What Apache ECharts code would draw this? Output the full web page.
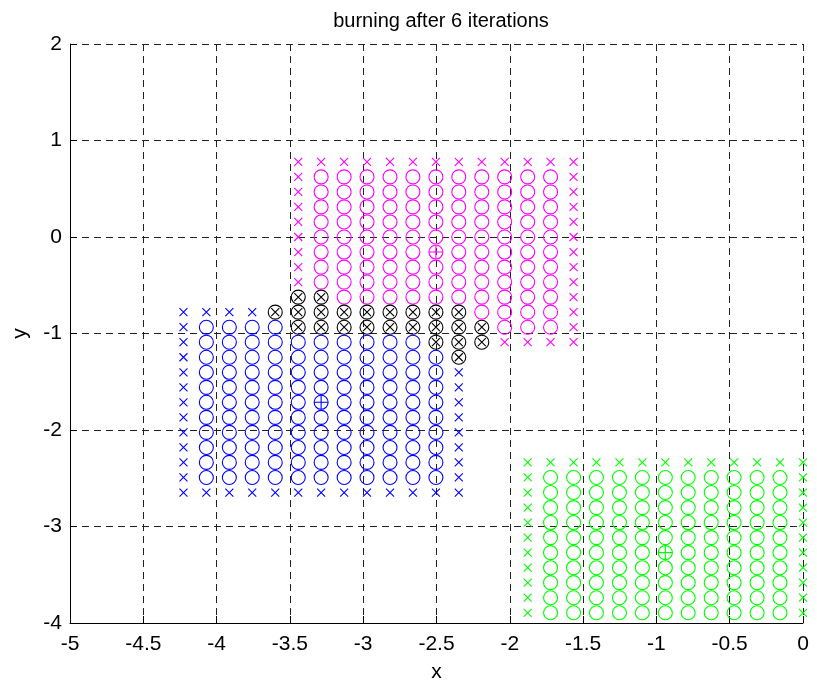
<!DOCTYPE html>
<html>
<head>
<meta charset="utf-8">
<title>burning after 6 iterations</title>
<script src="https://cdn.jsdelivr.net/npm/echarts@6/dist/echarts.min.js"></script>
<style>
  html, body { margin: 0; padding: 0; background: #fff; }
  #chart { width: 817px; height: 683px; }
</style>
</head>
<body>
<div id="chart"></div>
<script>
// Sample lattice: x position of each column (left to right)
const xColumns = [
  -4.226, -4.070, -3.913, -3.757, -3.600, -3.443, -3.287, -3.130, -2.974, -2.817,
  -2.661, -2.504, -2.348, -2.191, -2.035, -1.878, -1.722, -1.565, -1.409, -1.252,
  -1.096, -0.939, -0.783, -0.626, -0.470, -0.313, -0.157, 0.000
];

// y position of each row (top to bottom)
const yRows = [
   0.779,  0.623,  0.467,  0.312,  0.156,  0.000, -0.156, -0.312, -0.467, -0.623,
  -0.779, -0.935, -1.090, -1.246, -1.402, -1.558, -1.713, -1.869, -2.025, -2.181,
  -2.336, -2.492, -2.648, -2.804, -2.959, -3.115, -3.271, -3.427, -3.582, -3.738,
  -3.894
];

// State of every lattice cell, one string per row, one character per column.
//   m / M : cluster 1 interior / border   (magenta)
//   b / B : cluster 2 interior / border   (blue)
//   g / G : cluster 3 interior / border   (green)
//   k     : burnt cell                    (black)
//   .     : empty
const cellMap = [
  '.....MMMMMMMMMMMMM..........',
  '.....MmmmmmmmmmmmM..........',
  '.....MmmmmmmmmmmmM..........',
  '.....MmmmmmmmmmmmM..........',
  '.....MmmmmmmmmmmmM..........',
  '.....MmmmmmmmmmmmM..........',
  '.....MmmmmmmmmmmmM..........',
  '.....MmmmmmmmmmmmM..........',
  '.....MmmmmmmmmmmmM..........',
  '.....kkmmmmmmmmmmM..........',
  'BBBBkkkkkkkkkmmmmM..........',
  'BbbbbkkkkkkkkkmmmM..........',
  'BbbbbbbbbbbkkkMMMM..........',
  'Bbbbbbbbbbbbk...............',
  'BbbbbbbbbbbbB...............',
  'BbbbbbbbbbbbB...............',
  'BbbbbbbbbbbbB...............',
  'BbbbbbbbbbbbB...............',
  'BbbbbbbbbbbbB...............',
  'BbbbbbbbbbbbB...............',
  'BbbbbbbbbbbbB..GGGGGGGGGGGGG',
  'BbbbbbbbbbbbB..GgggggggggggG',
  'BBBBBBBBBBBBB..GgggggggggggG',
  '...............GgggggggggggG',
  '...............GgggggggggggG',
  '...............GgggggggggggG',
  '...............GgggggggggggG',
  '...............GgggggggggggG',
  '...............GgggggggggggG',
  '...............GgggggggggggG',
  '...............GgggggggggggG'
];

// Cluster centres: [column index, row index, cluster]
const centres = [
  [11, 6, 'm'],
  [6, 16, 'b'],
  [21, 26, 'g']
];

const clusterColors = { m: '#ff00ff', b: '#0000ff', g: '#00ff00', k: '#000000' };

const CROSS = 'path://M0,0L10,10M10,0L0,10';
const PLUS = 'path://M5,0L5,10M0,5L10,5';
const FONT = 'Liberation Sans, Arial, Helvetica, sans-serif';

// Collect lattice cells by state
const buckets = {};
cellMap.forEach((row, r) => {
  for (let i = 0; i < row.length; i++) {
    const c = row[i];
    if (c === '.') continue;
    (buckets[c] = buckets[c] || []).push([xColumns[i], yRows[r]]);
  }
});

function marks(data, symbol, size, color, z) {
  return {
    type: 'scatter',
    data: data || [],
    symbol: symbol,
    symbolSize: size,
    silent: true,
    animation: false,
    z: z,
    itemStyle: { color: 'rgba(0,0,0,0)', borderColor: color, borderWidth: 1.1, opacity: 1 }
  };
}

const series = [];
['m', 'b', 'g'].forEach(k => {
  const col = clusterColors[k];
  series.push(marks(buckets[k], 'circle', 14, col, 3));
  series.push(marks(buckets[k.toUpperCase()], CROSS, 8, col, 3));
});
series.push(marks(buckets.k, 'circle', 14, clusterColors.k, 4));
series.push(marks(buckets.k, CROSS, 8, clusterColors.k, 4));
centres.forEach(([ci, ri, k]) => {
  series.push(marks([[xColumns[ci], yRows[ri]]], PLUS, 14, clusterColors[k], 5));
});

const chart = echarts.init(document.getElementById('chart'), null, { renderer: 'canvas' });
chart.setOption({
  animation: false,
  backgroundColor: '#ffffff',
  title: {
    text: 'burning after 6 iterations',
    left: 436,
    top: 6,
    textAlign: 'center',
    textStyle: { fontFamily: FONT, fontSize: 20, fontWeight: 'normal', color: '#000' }
  },
  grid: {
    left: 70, top: 44, width: 733, height: 579,
    containLabel: false,
    outerBoundsMode: 'none'
  },
  xAxis: {
    type: 'value',
    min: -5,
    max: 0,
    interval: 0.5,
    name: 'x',
    nameLocation: 'middle',
    nameGap: 39,
    nameTextStyle: { fontFamily: FONT, fontSize: 21, color: '#000' },
    axisLine: { show: true, onZero: false, lineStyle: { color: '#000', width: 1 } },
    axisTick: { show: true, inside: true, length: 7, lineStyle: { color: '#000', width: 1 } },
    axisLabel: { color: '#000', fontFamily: FONT, fontSize: 21, margin: 11 },
    splitLine: { show: true, lineStyle: { color: '#222', width: 1, type: [7, 5] } }
  },
  yAxis: {
    type: 'value',
    min: -4,
    max: 2,
    interval: 1,
    name: 'y',
    nameLocation: 'middle',
    nameGap: 39,
    nameRotate: 90,
    nameTextStyle: { fontFamily: FONT, fontSize: 21, color: '#000' },
    axisLine: { show: true, onZero: false, lineStyle: { color: '#000', width: 1 } },
    axisTick: { show: true, inside: true, length: 7, lineStyle: { color: '#000', width: 1 } },
    axisLabel: { color: '#000', fontFamily: FONT, fontSize: 21, margin: 8 },
    splitLine: { show: true, lineStyle: { color: '#222', width: 1, type: [7, 5] } }
  },
  series: series
});
</script>
</body>
</html>
